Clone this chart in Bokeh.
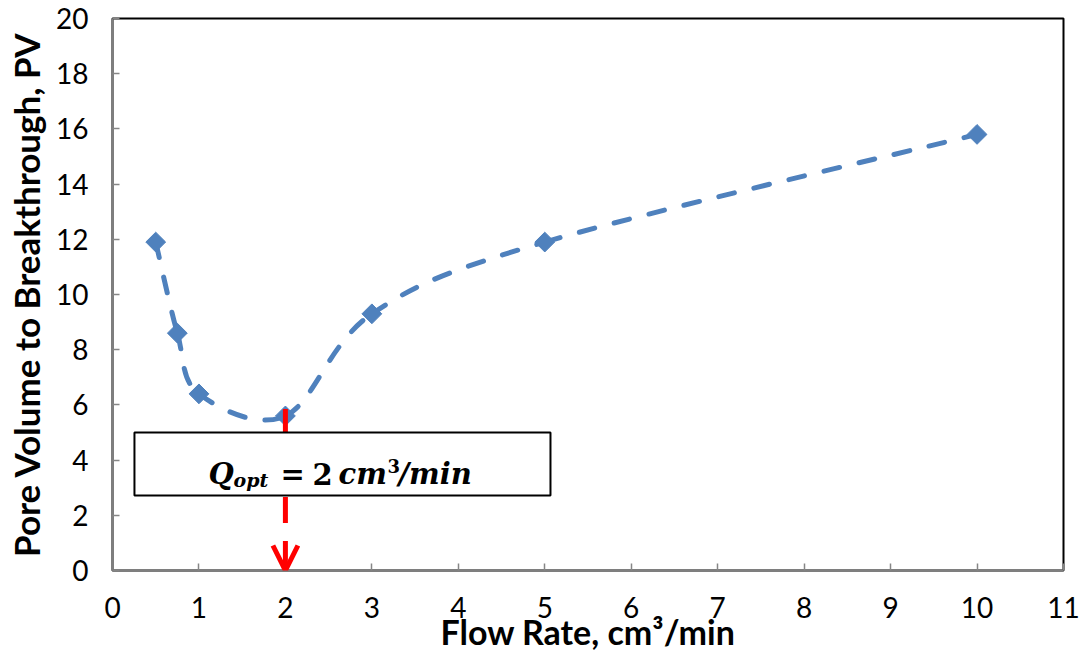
import numpy as np
from bokeh.plotting import figure
from bokeh.models import Range1d, FixedTicker, BoxAnnotation, Arrow, OpenHead, ColumnDataSource
from bokeh.core.properties import value
from bokeh.embed import file_html
from bokeh.resources import INLINE

# ---- data ----
flow_rate = [0.5, 0.75, 1, 2, 3, 5, 10]
pore_volume = [11.9, 8.6, 6.4, 5.6, 9.3, 11.9, 15.8]
x_ticks = list(range(0, 12))
y_ticks = list(range(0, 21, 2))
q_opt = 2

BLUE = "#4F81BD"

p = figure(width=1086, height=660, output_backend="svg", toolbar_location=None,
           x_range=Range1d(0, 11), y_range=Range1d(0, 20),
           min_border_left=112, min_border_right=23, min_border_top=18, min_border_bottom=90)
p.xgrid.visible = False
p.ygrid.visible = False
p.outline_line_color = "black"
p.outline_line_width = 2
p.background_fill_color = "white"
p.border_fill_color = "white"

for ax in (p.xaxis[0], p.yaxis[0]):
    ax.axis_line_color = "#7f7f7f"
    ax.axis_line_width = 2
    ax.major_tick_in = 7
    ax.major_tick_out = 0
    ax.major_tick_line_color = "#868686"
    ax.major_tick_line_width = 1.5
    ax.minor_tick_line_color = None
    ax.major_label_text_font = "Lato"
    ax.major_label_text_font_size = "28px"
    ax.major_label_text_color = "black"
    ax.axis_label_text_font = "Lato"
    ax.axis_label_text_font_style = "bold"
    ax.axis_label_text_color = "black"

p.xaxis.axis_label_text_font_size = "34px"
p.yaxis.axis_label_text_font_size = "35px"
p.xaxis.ticker = FixedTicker(ticks=x_ticks)
p.yaxis.ticker = FixedTicker(ticks=y_ticks)
p.xaxis.axis_label = "Flow Rate, cm³/min"
p.yaxis.axis_label = "Pore Volume to Breakthrough, PV"
p.xaxis.major_label_standoff = 26
p.xaxis.axis_label_standoff = -10
p.yaxis.major_label_standoff = 24
p.yaxis.axis_label_standoff = 6

# ---- smoothed dashed line (Bezier segments, Catmull-Rom style control points) ----
P = np.column_stack([flow_rate, pore_volume]).astype(float)
n = len(P)
seg = dict(x0=[], y0=[], x1=[], y1=[], cx0=[], cy0=[], cx1=[], cy1=[])
for i in range(n - 1):
    p0 = P[i - 1] if i > 0 else P[i]
    p1 = P[i]
    p2 = P[i + 1]
    p3 = P[i + 2] if i + 2 < n else P[i + 1]
    c0 = p1 + (p2 - p0) / 6.0
    c1 = p2 - (p3 - p1) / 6.0
    seg["x0"].append(p1[0]); seg["y0"].append(p1[1])
    seg["x1"].append(p2[0]); seg["y1"].append(p2[1])
    seg["cx0"].append(c0[0]); seg["cy0"].append(c0[1])
    seg["cx1"].append(c1[0]); seg["cy1"].append(c1[1])
p.bezier(x0="x0", y0="y0", x1="x1", y1="y1", cx0="cx0", cy0="cy0", cx1="cx1", cy1="cy1",
         source=ColumnDataSource(seg), line_color=BLUE, line_width=5,
         line_dash="16 20", line_cap="round")

p.scatter(flow_rate, pore_volume, marker="square", angle=np.pi / 4, size=14,
          fill_color=BLUE, line_color=BLUE)

# ---- red dashed arrow at the optimum ----
arrow_top = 5.85
p.add_layout(Arrow(x_start=q_opt, y_start=arrow_top, x_end=q_opt, y_end=0,
                   line_color="red", line_width=5, line_dash="26 18",
                   end=OpenHead(line_color="red", line_width=5, size=25)))

# ---- annotation box ----
p.add_layout(BoxAnnotation(left=0.254, right=5.066, bottom=2.717, top=5.0,
                           fill_color="white", fill_alpha=1.0,
                           line_color="black", line_alpha=1.0, line_width=2))

serif = value("DejaVu Serif")
base_y = 3.51
pieces = [
    ("Q", 1.110, base_y, "29px", "bold italic"),
    ("opt", 1.400, 3.27, "19px", "bold italic"),
    ("=", 1.943, base_y, "29px", "bold"),
    ("2", 2.313, base_y, "29px", "bold"),
    ("cm", 2.614, base_y, "29px", "bold italic"),
    ("3", 3.181, 3.80, "18px", "bold"),
    ("/min", 3.308, base_y, "29px", "bold italic"),
]
for txt, xx, yy, fs, st in pieces:
    p.text(x=[xx], y=[yy], text=[txt], text_font=serif, text_font_size=fs,
           text_font_style=st, text_align="left", text_baseline="alphabetic",
           text_color="black", level="overlay")

open("out.html", "w").write(file_html(p, INLINE))
